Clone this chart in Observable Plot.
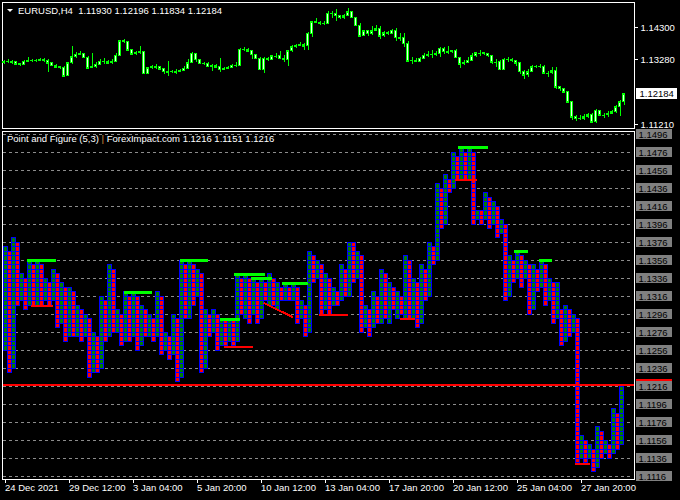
<!DOCTYPE html>
<html><head><meta charset="utf-8">
<script src="https://cdn.jsdelivr.net/npm/d3@7"></script>
<script src="https://cdn.jsdelivr.net/npm/@observablehq/plot@0.6"></script>
<style>
html,body{margin:0;padding:0;background:#000;}
#wrap{position:relative;width:680px;height:500px;overflow:hidden;background:#000;font-family:"Liberation Sans",sans-serif;}
#top,#bot{position:absolute;left:0;}
#top{top:0;} #bot{top:129px;}
svg rect, svg line, svg path{shape-rendering:crispEdges;}
.ttl{position:absolute;color:#fff;font-size:9.5px;line-height:12px;white-space:pre;}
#tri{position:absolute;left:7px;top:9px;width:0;height:0;border-left:3px solid transparent;border-right:3px solid transparent;border-top:3px solid #fff;}
</style></head><body>
<div id="wrap"><div id="top"></div><div id="bot"></div>
<div id="tri"></div><div class="ttl" id="t1" style="left:18px;top:5px;"></div>
<div class="ttl" id="t2" style="left:7px;top:133px;"></div></div>
<script>
// ---------- top panel: EURUSD H4 candles ----------
const symbol = "EURUSD,H4";
const firstOpen = 1.1322;
const closes = [1.1320,1.1322,1.1319,1.1313,1.1312,1.1322,1.1325,1.1324,1.1324,1.1327,
1.1325,1.1317,1.1309,1.1304,1.1302,1.1276,1.1317,1.1336,1.1344,1.1347,
1.1334,1.1300,1.1304,1.1312,1.1322,1.1322,1.1317,1.1322,1.1341,1.1387,
1.1384,1.1357,1.1345,1.1348,1.1352,1.1283,1.1301,1.1305,1.1303,1.1298,
1.1290,1.1288,1.1290,1.1288,1.1292,1.1299,1.1317,1.1346,1.1327,1.1315,
1.1315,1.1306,1.1309,1.1304,1.1296,1.1299,1.1301,1.1309,1.1309,1.1359,
1.1360,1.1354,1.1343,1.1331,1.1296,1.1331,1.1328,1.1338,1.1338,1.1331,
1.1327,1.1355,1.1367,1.1370,1.1374,1.1371,1.1410,1.1447,1.1445,1.1442,
1.1442,1.1474,1.1474,1.1468,1.1461,1.1466,1.1479,1.1461,1.1436,1.1402,
1.1418,1.1410,1.1418,1.1424,1.1402,1.1412,1.1410,1.1420,1.1397,1.1396,
1.1378,1.1323,1.1325,1.1322,1.1331,1.1341,1.1343,1.1344,1.1347,1.1362,
1.1353,1.1352,1.1354,1.1334,1.1313,1.1317,1.1325,1.1338,1.1348,1.1348,
1.1347,1.1341,1.1320,1.1320,1.1296,1.1327,1.1327,1.1325,1.1317,1.1290,
1.1278,1.1288,1.1304,1.1306,1.1306,1.1285,1.1285,1.1291,1.1240,1.1235,
1.1225,1.1193,1.1145,1.1140,1.1140,1.1145,1.1151,1.1129,1.1166,1.1151,
1.1151,1.1156,1.1161,1.1177,1.1193,1.12184];
const highs = [1.1326,1.1328,1.1325,1.1321,1.1316,1.1326,1.1334,1.1328,1.1329,1.1331,
1.1330,1.1327,1.1318,1.1311,1.1307,1.1305,1.1320,1.1370,1.1352,1.1355,
1.1349,1.1338,1.1346,1.1318,1.1327,1.1331,1.1326,1.1327,1.1346,1.1390,
1.1392,1.1386,1.1361,1.1353,1.1370,1.1355,1.1304,1.1310,1.1312,1.1306,
1.1300,1.1322,1.1295,1.1296,1.1298,1.1305,1.1328,1.1350,1.1348,1.1328,
1.1320,1.1318,1.1313,1.1312,1.1333,1.1303,1.1305,1.1313,1.1320,1.1362,
1.1368,1.1362,1.1356,1.1345,1.1335,1.1335,1.1336,1.1342,1.1349,1.1354,
1.1341,1.1358,1.1374,1.1376,1.1381,1.1379,1.1415,1.1450,1.1457,1.1450,
1.1450,1.1482,1.1482,1.1486,1.1468,1.1472,1.1489,1.1482,1.1462,1.1442,
1.1420,1.1421,1.1432,1.1436,1.1433,1.1418,1.1418,1.1424,1.1428,1.1410,
1.1410,1.1385,1.1335,1.1330,1.1336,1.1348,1.1353,1.1357,1.1353,1.1367,
1.1365,1.1370,1.1358,1.1360,1.1335,1.1324,1.1336,1.1349,1.1352,1.1356,
1.1352,1.1348,1.1342,1.1328,1.1325,1.1330,1.1335,1.1333,1.1324,1.1320,
1.1293,1.1298,1.1309,1.1310,1.1312,1.1308,1.1290,1.1302,1.1304,1.1242,
1.1236,1.1228,1.1196,1.1150,1.1150,1.1155,1.1156,1.1156,1.1171,1.1168,
1.1158,1.1163,1.1166,1.1181,1.1198,1.12196];
const lows = [1.1314,1.1316,1.1314,1.1309,1.1306,1.1310,1.1319,1.1320,1.1319,1.1321,
1.1318,1.1288,1.1305,1.1300,1.1297,1.1272,1.1274,1.1313,1.1333,1.1340,
1.1330,1.1296,1.1299,1.1300,1.1308,1.1312,1.1312,1.1313,1.1320,1.1340,
1.1378,1.1354,1.1340,1.1342,1.1345,1.1280,1.1282,1.1296,1.1298,1.1293,
1.1281,1.1274,1.1285,1.1280,1.1286,1.1293,1.1296,1.1315,1.1318,1.1311,
1.1310,1.1302,1.1290,1.1300,1.1288,1.1294,1.1296,1.1300,1.1302,1.1305,
1.1354,1.1350,1.1327,1.1327,1.1293,1.1283,1.1321,1.1326,1.1333,1.1327,
1.1318,1.1307,1.1352,1.1364,1.1369,1.1356,1.1356,1.1397,1.1442,1.1437,
1.1437,1.1440,1.1460,1.1449,1.1456,1.1455,1.1466,1.1458,1.1433,1.1398,
1.1402,1.1400,1.1406,1.1417,1.1393,1.1399,1.1405,1.1408,1.1386,1.1386,
1.1366,1.1320,1.1314,1.1318,1.1322,1.1327,1.1334,1.1332,1.1337,1.1334,
1.1344,1.1344,1.1348,1.1332,1.1300,1.1308,1.1317,1.1327,1.1336,1.1339,
1.1341,1.1336,1.1313,1.1303,1.1292,1.1292,1.1320,1.1320,1.1305,1.1281,
1.1266,1.1270,1.1286,1.1299,1.1300,1.1281,1.1270,1.1280,1.1234,1.1227,
1.1219,1.1188,1.1135,1.1133,1.1134,1.1136,1.1142,1.1124,1.1124,1.1147,
1.1142,1.1145,1.1154,1.1158,1.1146,1.11834];
const topTicks = [1.14300, 1.13280, 1.11210];

// ---------- bottom panel: Point and Figure (5,3) ----------
const pfName = "Point and Figure (5,3)";
const pfSource = "ForexImpact.com";
const boxSize = 0.0005;
const pfHigh = [1.1371,1.1366,1.1381,1.1376,1.1341,1.1336,1.1356,1.1351,1.1356,1.1351,
1.1336,1.1331,1.1346,1.1341,1.1331,1.1326,1.1326,1.1321,1.1306,1.1301,
1.1296,1.1291,1.1276,1.1271,1.1316,1.1311,1.1351,1.1346,1.1301,1.1296,
1.1321,1.1316,1.1321,1.1316,1.1306,1.1301,1.1296,1.1291,1.1321,1.1316,
1.1276,1.1271,1.1296,1.1291,1.1356,1.1351,1.1356,1.1351,1.1346,1.1341,
1.1301,1.1296,1.1301,1.1296,1.1291,1.1291,1.1291,1.1291,1.1341,1.1336,
1.1341,1.1336,1.1336,1.1331,1.1336,1.1331,1.1341,1.1336,1.1331,1.1326,
1.1331,1.1326,1.1331,1.1326,1.1311,1.1306,1.1366,1.1361,1.1356,1.1351,
1.1341,1.1336,1.1326,1.1321,1.1351,1.1346,1.1376,1.1376,1.1366,1.1361,
1.1306,1.1301,1.1321,1.1316,1.1346,1.1341,1.1331,1.1326,1.1321,1.1316,
1.1361,1.1356,1.1336,1.1331,1.1351,1.1346,1.1376,1.1371,1.1441,1.1436,
1.1451,1.1446,1.1476,1.1471,1.1481,1.1476,1.1481,1.1476,1.1411,1.1411,
1.1431,1.1426,1.1421,1.1416,1.1401,1.1396,1.1361,1.1356,1.1366,1.1361,
1.1356,1.1351,1.1351,1.1346,1.1356,1.1351,1.1336,1.1331,1.1331,1.1301,
1.1306,1.1301,1.1296,1.1291,1.1161,1.1156,1.1151,1.1146,1.1171,1.1166,
1.1156,1.1151,1.1191,1.1186,1.1216];
const pfLow = [1.1256,1.1231,1.1236,1.1306,1.1311,1.1301,1.1306,1.1306,1.1306,1.1306,
1.1311,1.1306,1.1311,1.1281,1.1286,1.1266,1.1271,1.1271,1.1271,1.1266,
1.1271,1.1226,1.1231,1.1231,1.1236,1.1266,1.1271,1.1276,1.1276,1.1261,
1.1266,1.1266,1.1271,1.1256,1.1261,1.1271,1.1271,1.1266,1.1271,1.1251,
1.1256,1.1246,1.1251,1.1221,1.1226,1.1291,1.1291,1.1306,1.1316,1.1231,
1.1236,1.1271,1.1276,1.1256,1.1261,1.1261,1.1266,1.1261,1.1266,1.1296,
1.1291,1.1286,1.1296,1.1286,1.1291,1.1311,1.1306,1.1306,1.1301,1.1311,
1.1311,1.1311,1.1311,1.1286,1.1291,1.1271,1.1276,1.1331,1.1336,1.1296,
1.1301,1.1296,1.1306,1.1306,1.1311,1.1316,1.1316,1.1331,1.1336,1.1276,
1.1281,1.1271,1.1281,1.1286,1.1286,1.1291,1.1286,1.1301,1.1291,1.1296,
1.1291,1.1291,1.1291,1.1281,1.1286,1.1311,1.1316,1.1351,1.1356,1.1391,
1.1396,1.1431,1.1436,1.1446,1.1446,1.1446,1.1446,1.1396,1.1401,1.1396,
1.1401,1.1391,1.1396,1.1381,1.1386,1.1311,1.1316,1.1331,1.1336,1.1326,
1.1336,1.1296,1.1301,1.1321,1.1326,1.1306,1.1311,1.1286,1.1291,1.1261,
1.1266,1.1271,1.1276,1.1131,1.1136,1.1131,1.1136,1.1121,1.1126,1.1136,
1.1141,1.1136,1.1141,1.1146,1.1151];
const pfTypes = "XOXOXOXOXO"+"XOXOXOXOXO"+"XOXOXOXOXO"+"XOXOXOXOXO"+"XOXOXOXOXO"+
                "XOXOXOXOXO"+"XOXOXOXOXO"+"XOXOXOXOXO"+"XOXOXOXOXO"+"XOXOXOXOXO"+
                "XOXOXOXOXO"+"XOXOXOXOXO"+"XOXOXOXOXO"+"XOXOXOXOXO"+"XOXOXOXOXO"+"XOXOX";
// resistance (R, green) / support (S, red) segments: column span and price
const levFrom  = [6.9, 7.9, 31.0, 45.0, 55.2, 56.0, 58.7, 62.9, 70.7, 79.9, 100.2, 113.9, 114.7, 128.7, 134.9, 143.9];
const levTo    = [14.2, 13.4, 38.2, 52.2, 60.2, 63.4, 66.4, 68.2, 77.2, 87.2, 103.9, 119.4, 122.2, 132.2, 138.2, 147.7];
const levPrice = [1.1356, 1.1306, 1.1321, 1.1356, 1.1291, 1.1260, 1.1341, 1.1336, 1.1331, 1.1296, 1.1291, 1.1446, 1.1482, 1.1366, 1.1356, 1.1130];
const levKind  = ["R","S","R","R","R","S","R","R","R","S","S","S","R","R","R","S"];
const diagFrom = [65.9], diagTo = [73.2], diagP1 = [1.1309], diagP2 = [1.1293];
const pfPrice = 1.1218;
const pfTicks = [1.1496,1.1476,1.1456,1.1436,1.1416,1.1396,1.1376,1.1356,1.1336,1.1316,
                 1.1296,1.1276,1.1256,1.1236,1.1216,1.1196,1.1176,1.1156,1.1136,1.1116];
const dateIdx = [1, 17, 33, 49, 65, 81, 97, 113, 129, 145];
const dateLabels = ["24 Dec 2021","29 Dec 12:00","3 Jan 04:00","5 Jan 20:00","10 Jan 12:00",
                    "13 Jan 04:00","17 Jan 20:00","20 Jan 12:00","25 Jan 04:00","27 Jan 20:00"];

// ---------- layout helpers ----------
const xUnit = px => (px + 0.5) / 4;           // page pixel -> bar index units
const X = {type: "linear", domain: [0, 170], range: [-0.5, 679.5]};
const font = {background: "transparent", color: "white", fontFamily: "Liberation Sans, sans-serif", fontSize: "9.5px"};

// ---------- top chart ----------
const bars = closes.map((c, k) => ({i: k + 1, o: k ? closes[k - 1] : firstOpen, c, h: highs[k], l: lows[k]}));
const last = bars[bars.length - 1];
const topPlot = Plot.plot({
  width: 680, height: 129, marginLeft: 2, marginRight: 46, marginTop: 2, marginBottom: 1,
  x: {...X, axis: null},
  y: {type: "linear", domain: [1.110932, 1.151573], range: [128, 0]},
  style: font,
  marks: [
    Plot.frame({stroke: "white"}),
    Plot.ruleX(bars, {x: "i", y1: d => Math.min(d.l, d.o, d.c), y2: d => Math.max(d.h, d.o, d.c), stroke: "#00ff00"}),
    Plot.rect(bars, {x1: d => d.i - 0.25, x2: d => d.i + 0.25, y1: "o", y2: "c", fill: "#e8ffe8", stroke: "#00ff00"}),
    Plot.ruleY(bars, {y: "c", x1: d => d.i - 0.375, x2: d => d.i + 0.375, stroke: "#00ff00"}),
    Plot.axisY(topTicks, {anchor: "right", tickSize: 3, tickPadding: 3, tickFormat: d => d.toFixed(5), stroke: "white", fill: "white"}),
    Plot.rect([last.c], {x1: () => xUnit(636), x2: () => xUnit(677), y1: d => d - 0.00175, y2: d => d + 0.00175, fill: "white"}),
    Plot.text([last.c], {x: () => xUnit(639), y: d => d, text: d => d.toFixed(5), fill: "black", textAnchor: "start"})
  ]
});
document.getElementById("top").appendChild(topPlot);

// ---------- bottom chart ----------
const cells = [];
pfHigh.forEach((h, k) => {
  const n = Math.round((h - pfLow[k]) / boxSize);
  for (let j = 0; j < n; j++) cells.push({i: k + 1, top: h - j * boxSize, bot: h - (j + 1) * boxSize, t: pfTypes[k]});
});
const levels = levPrice.map((p, k) => ({a: levFrom[k], b: levTo[k], p, kind: levKind[k]}));
const diags = diagFrom.map((a, k) => ({a, b: diagTo[k], p1: diagP1[k], p2: diagP2[k]}));
const botPlot = Plot.plot({
  width: 680, height: 371, marginLeft: 2, marginRight: 46, marginTop: 2, marginBottom: 21,
  x: X,
  y: {type: "linear", domain: [1.1116, 1.1496], range: [347, 5]},
  style: font,
  marks: [
    Plot.ruleY(pfTicks, {x1: () => xUnit(3), x2: () => xUnit(633), stroke: "#8c8c8c", strokeDasharray: "3,3"}),
    Plot.rect(cells, {x1: "i", x2: d => d.i + 1, y1: "bot", y2: "top", fill: d => d.t === "X" ? "#008000" : "#ff0000", stroke: "#0000ff"}),
    Plot.ruleY(levels, {y: "p", x1: "a", x2: "b", stroke: d => d.kind === "R" ? "#00ff00" : "#ff0000", strokeWidth: d => d.kind === "R" ? 3 : 2}),
    Plot.link(diags, {x1: "a", x2: "b", y1: "p1", y2: "p2", stroke: "#ff0000", strokeWidth: 2}),
    Plot.ruleY([pfPrice], {x1: () => xUnit(3), x2: () => xUnit(634), stroke: "#ff0000", strokeWidth: 2}),
    Plot.frame({stroke: "white"}),
    Plot.rect([pfPrice], {x1: () => xUnit(636), x2: () => xUnit(672), y1: d => d - 0.0006, y2: d => d + 0.0006, fill: "#ff0000"}),
    Plot.rect(pfTicks, {x1: () => xUnit(636), x2: () => xUnit(672), y1: d => d - 0.0006, y2: d => d + 0.0006, fill: "#808080"}),
    Plot.axisY(pfTicks, {anchor: "right", tickSize: 0, tickPadding: 4, tickFormat: d => d.toFixed(4), fill: "black"}),
    Plot.axisX(dateIdx, {anchor: "bottom", tickSize: 4, tickPadding: 1, tickFormat: d => dateLabels[dateIdx.indexOf(d)], textAnchor: "start", dx: 1, stroke: "white", fill: "white"})
  ]
});
document.getElementById("bot").appendChild(botPlot);

// ---------- titles ----------
const f5 = v => v.toFixed(5), f4 = v => v.toFixed(4);
document.getElementById("t1").textContent = `${symbol}  ${f5(last.o)} ${f5(last.h)} ${f5(last.l)} ${f5(last.c)}`;
const lastCol = pfHigh.length - 1;
document.getElementById("t2").innerHTML = `${pfName} <span style="color:#d08a3c">|</span> ${pfSource} ${f4(pfHigh[lastCol])} ${f4(pfLow[lastCol])} ${f4(pfHigh[lastCol])}`;
</script>
</body></html>
